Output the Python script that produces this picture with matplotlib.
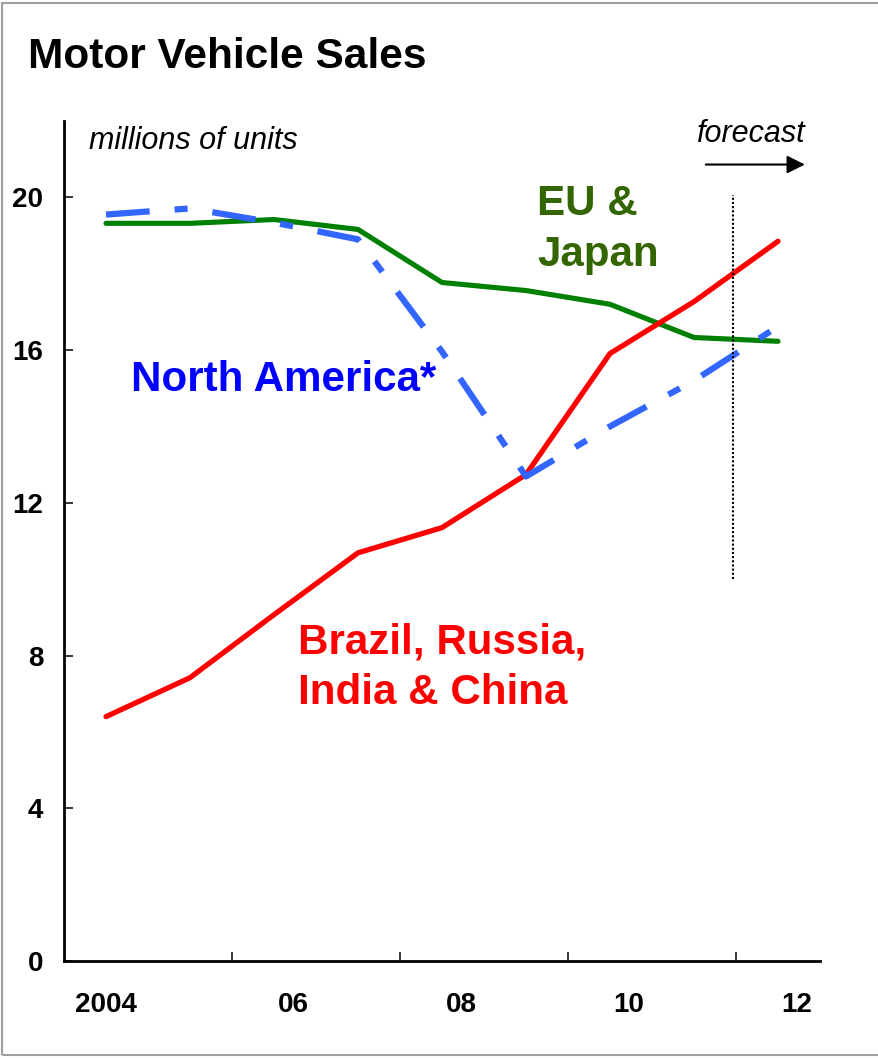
import matplotlib.pyplot as plt
from matplotlib.patches import Rectangle
from matplotlib.transforms import ScaledTranslation

plt.rcParams['font.family'] = ['Liberation Sans', 'DejaVu Sans']

# data (millions of units), one point per year 2004..2012
year_idx = list(range(9))
bric = [6.40, 7.42, 9.07, 10.69, 11.35, 12.74, 15.91, 17.27, 18.85]
eu_japan = [19.32, 19.32, 19.42, 19.16, 17.77, 17.56, 17.20, 16.33, 16.23]
north_america = [19.55, 19.71, 19.34, 18.90, 15.96, 12.69, 14.00, 15.20, 16.62]

year_labels = ['2004', '06', '08', '10', '12']
label_idx = [0, 2, 4, 6, 8]
boundary_ticks = [1.5, 3.5, 5.5, 7.5]
y_ticks = [0, 4, 8, 12, 16, 20]
forecast_start = 7.46

red = '#FF0000'
green = '#008000'
green_txt = '#336600'
blue_line = '#3366FF'
blue_txt = '#0000FF'

fig = plt.figure(figsize=(8.79, 10.58), dpi=100)

# gray frame (top, left, bottom visible)
fig.patches.append(Rectangle((0.0025, 0.003), 1.02, 0.994, transform=fig.transFigure,
                             fill=False, edgecolor='#a0a0a0', linewidth=1.5))

ax = fig.add_axes([64 / 879, 97 / 1058, 756 / 879, 840 / 1058])

ax.plot(year_idx, eu_japan, color=green, lw=3.7, solid_capstyle='round', solid_joinstyle='round')
ax.plot(year_idx, bric, color=red, lw=3.8, solid_capstyle='round', solid_joinstyle='round')
ax.plot(year_idx, north_america, color=blue_line, lw=4.5,
        linestyle=(0, (7.0, 4.0, 2.1, 4.0)))

# forecast marker
ax.plot([forecast_start, forecast_start], [10, 20.05], color='black',
        lw=1.5, linestyle=(0, (1, 1)))
ax.annotate('', xy=(8.32, 20.86), xytext=(7.14, 20.86),
            arrowprops=dict(arrowstyle='-|>,head_length=0.6,head_width=0.3',
                            color='black', lw=1.5, mutation_scale=18,
                            shrinkA=0, shrinkB=0),
            annotation_clip=False)
ax.text(7.04, 21.44, 'forecast', fontsize=22, style='italic', va='baseline')
ax.text(-0.2, 21.26, 'millions of units', fontsize=22, style='italic', va='baseline')

# series labels
ax.text(0.30, 14.92, 'North America*', color=blue_txt, fontsize=30.3,
        fontweight='bold', va='baseline')
ax.text(5.13, 20.35, 'EU &\nJapan', color=green_txt, fontsize=30.3,
        fontweight='bold', va='top', linespacing=1.35)
ax.text(2.28, 8.87, 'Brazil, Russia,\nIndia & China', color=red, fontsize=30.3,
        fontweight='bold', va='top', linespacing=1.35)

ax.set_xlim(-0.5, 8.5)
ax.set_ylim(0, 22)

for s in ['top', 'right']:
    ax.spines[s].set_visible(False)
for s in ['left', 'bottom']:
    ax.spines[s].set_linewidth(2)

ax.set_yticks(y_ticks)
ax.set_yticklabels([str(v) for v in y_ticks], fontweight='bold')
ax.tick_params(axis='y', direction='in', length=6.5, width=1.1, pad=15, labelsize=20)

ax.set_xticks(boundary_ticks)
ax.tick_params(axis='x', which='major', direction='in', length=6.5, width=1.1,
               labelbottom=False)
ax.set_xticks(label_idx, minor=True)
ax.set_xticklabels(year_labels, minor=True, fontweight='bold')
ax.tick_params(axis='x', which='minor', length=0, pad=22, labelsize=20)

# the short year labels sit a little right of their year
shift = ScaledTranslation(19 / 100, 0, fig.dpi_scale_trans)
for lab in ax.get_xticklabels(minor=True)[1:]:
    lab.set_transform(lab.get_transform() + shift)

fig.text(28 / 879, 1 - 68 / 1058, 'Motor Vehicle Sales', fontsize=30.5,
         fontweight='bold', va='baseline')

fig.savefig('out.png', dpi=100)
